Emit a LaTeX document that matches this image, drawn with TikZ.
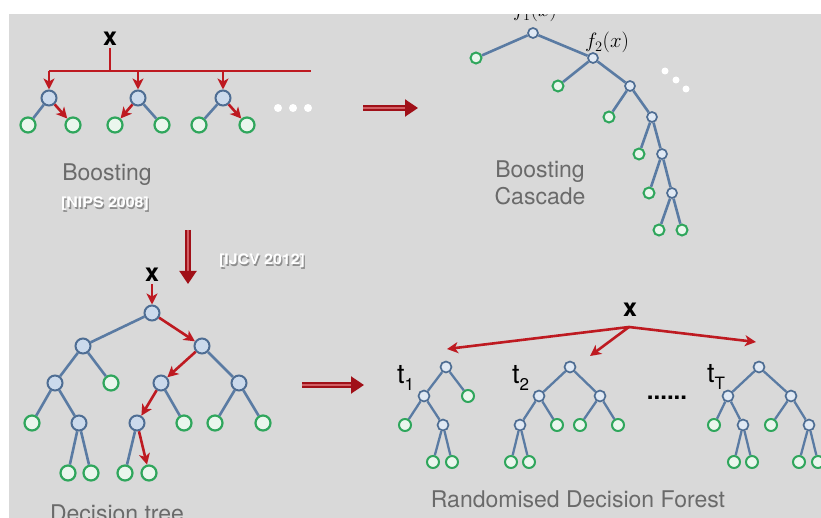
\documentclass[tikz,border=0pt]{standalone}
\usepackage{fontspec}
\newfontfamily\hv{TeX Gyre Heros}
\usetikzlibrary{arrows.meta}
\definecolor{bg}{HTML}{D9D9D9}
\definecolor{arr}{HTML}{BE1A21}
\definecolor{darr}{HTML}{A01018}
\definecolor{tedge}{HTML}{5A7BA3}
\definecolor{innf}{HTML}{CBDAEC}
\definecolor{innb}{HTML}{4E6D93}
\definecolor{leafb}{HTML}{2FA65C}
\definecolor{leaff}{HTML}{EAF6ED}
\definecolor{lab}{HTML}{6A6A6A}
\definecolor{embsh}{HTML}{8E8E8E}
\newcommand\embtxt[1]{\leavevmode\rlap{\kern1.2pt\raisebox{-1.2pt}{\textcolor{embsh}{#1}}}\textcolor{white}{#1}}
\begin{document}
\begin{tikzpicture}[x=1pt,y=-1pt,
  inb/.style={circle, draw=innb, fill=innf, line width=2pt, minimum size=15pt, inner sep=0pt},
  lfb/.style={circle, draw=leafb, fill=leaff, line width=2.2pt, minimum size=15pt, inner sep=0pt},
  ins/.style={circle, draw=innb, fill=innf!60!white, line width=1.7pt, minimum size=10pt, inner sep=0pt},
  lfs/.style={circle, draw=leafb, fill=leaff, line width=2pt, minimum size=11pt, inner sep=0pt},
  tl/.style={draw=tedge, line width=2.6pt},
  rl/.style={draw=arr, line width=2.8pt},
  ra/.style={draw=arr, line width=2.6pt, -{Stealth[length=11pt,width=11pt,inset=3pt]}},
  dbl/.style={draw=darr, line width=2pt, double=arr!70!white, double distance=2.2pt, -{Triangle[length=13pt,width=17pt]}},
  lbl/.style={text=lab, font=\hv\fontsize{23}{27}\selectfont, inner sep=0pt},
  xl/.style={font=\hv\bfseries\fontsize{25}{25}\selectfont, inner sep=2pt},
  tt/.style={font=\hv\fontsize{27}{27}\selectfont, inner sep=0pt, anchor=base west},
  emb/.style={font=\hv\bfseries\fontsize{14.5}{14.5}\selectfont, inner sep=0pt, anchor=base},
  fx/.style={font=\fontsize{21}{21}\selectfont, inner sep=0pt, anchor=base},
  wdot/.style={circle, fill=white, minimum size=8pt, inner sep=0pt}
]
\useasboundingbox (0,0) rectangle (821,518);
\fill[bg] (9,14) rectangle (821,518);

% ---------------- Boosting ----------------
\node[xl] (x1) at (110,39) {x};
\coordinate (bm) at (110,71);
\coordinate (b1) at (49,71);
\coordinate (b2) at (138,71);
\coordinate (b3) at (223,71);
\coordinate (br) at (311,71);
\node[inb] (n1) at (49,98) {};
\node[inb] (n2) at (138,98) {};
\node[inb] (n3) at (223,98) {};
\node[lfb] (l11) at (28,125) {};
\node[lfb] (l12) at (73,125) {};
\node[lfb] (l21) at (115,125) {};
\node[lfb] (l22) at (162,125) {};
\node[lfb] (l31) at (199,125) {};
\node[lfb] (l32) at (247,125) {};
\draw[rl] (x1) -- (bm);
\draw[rl] (b1) -- (br);
\draw[ra] (b1) -- (n1);
\draw[ra] (b2) -- (n2);
\draw[ra] (b3) -- (n3);
\draw[tl] (n1) -- (l11);
\draw[tl] (n2) -- (l22);
\draw[tl] (n3) -- (l31);
\draw[ra] (n1) -- (l12);
\draw[ra] (n2) -- (l21);
\draw[ra] (n3) -- (l32);
\node[wdot] (bd1) at (278,108) {};
\node[wdot] (bd2) at (293,108) {};
\node[wdot] (bd3) at (308,108) {};
\node[lbl, anchor=base] (boost) at (107,181) {Boosting};
\node[emb] (nips) at (105,208) {\scalebox{1.1}[1]{\embtxt{[NIPS 2008]}}};

% arrow to cascade
\coordinate (ta1) at (363,108);
\coordinate (ta2) at (418,108);
\draw[dbl] (ta1) -- (ta2);

% ---------------- Boosting cascade ----------------
\node[ins] (c1) at (533,33) {};
\node[lfs] (c1l) at (476,58) {};
\node[ins] (c2) at (593,58) {};
\node[lfs] (c2l) at (558,86) {};
\node[ins] (c3) at (630,86) {};
\node[lfs] (c3l) at (609,117) {};
\node[ins] (c4) at (652,117) {};
\node[lfs] (c4l) at (639,154) {};
\node[ins] (c5) at (662,154) {};
\node[lfs] (c5l) at (649,193) {};
\node[ins] (c6) at (672,193) {};
\node[lfs] (c6a) at (659,230) {};
\node[lfs] (c6b) at (682,230) {};
\draw[tl] (c1) -- (c1l);
\draw[tl] (c1) -- (c2);
\draw[tl] (c2) -- (c2l);
\draw[tl] (c2) -- (c3);
\draw[tl] (c3) -- (c3l);
\draw[tl] (c3) -- (c4);
\draw[tl] (c4) -- (c4l);
\draw[tl] (c4) -- (c5);
\draw[tl] (c5) -- (c5l);
\draw[tl] (c5) -- (c6);
\draw[tl] (c6) -- (c6a);
\draw[tl] (c6) -- (c6b);
\node[fx] (f1) at (535,17) {$f_1(x)$};
\node[fx] (f2) at (607,48) {$f_2(x)$};
\node[wdot, minimum size=7pt] (cd1) at (665,71) {};
\node[wdot, minimum size=7pt] (cd2) at (676,80) {};
\node[wdot, minimum size=7pt] (cd3) at (686,89) {};
\node[lbl, anchor=north, align=center] (casc) at (540,160.5) {Boosting\\Cascade};

% down arrow
\coordinate (da1) at (188,230);
\coordinate (da2) at (188,284);
\draw[dbl] (da1) -- (da2);
\node[emb] (ijcv) at (262,265) {\scalebox{1.1}[1]{\embtxt{[IJCV 2012]}}};

% ---------------- Decision tree ----------------
\node[xl] (x2) at (152,275) {x};
\node[inb] (d0) at (152,313) {};
\node[inb] (d1) at (83,346) {};
\node[inb] (d2) at (202,346) {};
\node[inb] (d3) at (55,383) {};
\node[lfb] (d4) at (111,383) {};
\node[inb] (d5) at (161,383) {};
\node[inb] (d6) at (239,383) {};
\node[lfb] (d7) at (32,423) {};
\node[inb] (d8) at (79,423) {};
\node[inb] (d9) at (137,423) {};
\node[lfb] (d10) at (184,423) {};
\node[lfb] (d11) at (215,423) {};
\node[lfb] (d12) at (263,423) {};
\node[lfb] (d13) at (68,473) {};
\node[lfb] (d14) at (91,473) {};
\node[lfb] (d15) at (125,473) {};
\node[lfb] (d16) at (149,473) {};
\draw[tl] (d0) -- (d1);
\draw[tl] (d1) -- (d3);
\draw[tl] (d1) -- (d4);
\draw[tl] (d2) -- (d6);
\draw[tl] (d3) -- (d7);
\draw[tl] (d3) -- (d8);
\draw[tl] (d5) -- (d10);
\draw[tl] (d6) -- (d11);
\draw[tl] (d6) -- (d12);
\draw[tl] (d8) -- (d13);
\draw[tl] (d8) -- (d14);
\draw[tl] (d9) -- (d15);
\draw[ra] (x2) -- (d0);
\draw[ra] (d0) -- (d2);
\draw[ra] (d2) -- (d5);
\draw[ra] (d5) -- (d9);
\draw[ra] (d9) -- (d16);
\node[lbl, anchor=base] (dtl) at (117,521) {Decision tree};

% arrow to forest
\coordinate (fa1) at (302,385);
\coordinate (fa2) at (364,385);
\draw[dbl] (fa1) -- (fa2);

% ---------------- Forest ----------------
\node[xl] (x3) at (630,310) {x};
\coordinate (xs) at (629,327);
\coordinate (e1) at (447,349);
\coordinate (e2) at (590,356);
\coordinate (e3) at (756,342);
\draw[ra] (xs) -- (e1);
\draw[ra] (xs) -- (e2);
\draw[ra] (xs) -- (e3);

\begin{scope}[ins/.append style={minimum size=11pt}, lfs/.append style={minimum size=12pt}, tl/.append style={line width=2.3pt}]
% tree 1
\node[ins] (a0) at (446,367) {};
\node[ins] (a1) at (424,396) {};
\node[lfs] (a2) at (468,396) {};
\node[lfs] (a3) at (405,425) {};
\node[ins] (a4) at (443,425) {};
\node[lfs] (a5) at (433,462) {};
\node[lfs] (a6) at (452,462) {};
\draw[tl] (a0) -- (a1);
\draw[tl] (a0) -- (a2);
\draw[tl] (a1) -- (a3);
\draw[tl] (a1) -- (a4);
\draw[tl] (a4) -- (a5);
\draw[tl] (a4) -- (a6);
% tree 2
\node[ins] (b0) at (570,367) {};
\node[ins] (bb1) at (539,396) {};
\node[ins] (bb2) at (600,396) {};
\node[ins] (bb3) at (520,425) {};
\node[lfs] (bb4) at (557,425) {};
\node[lfs] (bb5) at (580,425) {};
\node[lfs] (bb6) at (618,425) {};
\node[lfs] (bb7) at (511,462) {};
\node[lfs] (bb8) at (529,462) {};
\draw[tl] (b0) -- (bb1);
\draw[tl] (b0) -- (bb2);
\draw[tl] (bb1) -- (bb3);
\draw[tl] (bb1) -- (bb4);
\draw[tl] (bb2) -- (bb5);
\draw[tl] (bb2) -- (bb6);
\draw[tl] (bb3) -- (bb7);
\draw[tl] (bb3) -- (bb8);
% tree T
\node[ins] (g0) at (759,367) {};
\node[ins] (g1) at (728,396) {};
\node[ins] (g2) at (791,396) {};
\node[lfs] (g3) at (714,425) {};
\node[ins] (g4) at (743,425) {};
\node[lfs] (g5) at (771,425) {};
\node[ins] (g6) at (809,425) {};
\node[lfs] (g7) at (734,462) {};
\node[lfs] (g8) at (752,462) {};
\node[lfs] (g9) at (799,462) {};
\node[lfs] (g10) at (818,462) {};
\draw[tl] (g0) -- (g1);
\draw[tl] (g0) -- (g2);
\draw[tl] (g1) -- (g3);
\draw[tl] (g1) -- (g4);
\draw[tl] (g2) -- (g5);
\draw[tl] (g2) -- (g6);
\draw[tl] (g4) -- (g7);
\draw[tl] (g4) -- (g8);
\draw[tl] (g6) -- (g9);
\draw[tl] (g6) -- (g10);
\end{scope}

\node[tt] (t1) at (397,383) {t\raisebox{-7pt}{\fontsize{17}{17}\selectfont 1}};
\node[tt] (t2) at (512,383) {t\raisebox{-7pt}{\fontsize{17}{17}\selectfont 2}};
\node[tt] (tT) at (707,382) {t\raisebox{-7pt}{\fontsize{17}{17}\selectfont T}};
\node[font=\hv\bfseries\fontsize{24}{24}\selectfont, inner sep=0pt, anchor=base] (dots) at (667,399) {......};
\node[lbl, anchor=base] (rdf) at (578,507) {Randomised Decision Forest};

% white top strip
\fill[white] (0,0) rectangle (821,14);
\end{tikzpicture}
\end{document}
